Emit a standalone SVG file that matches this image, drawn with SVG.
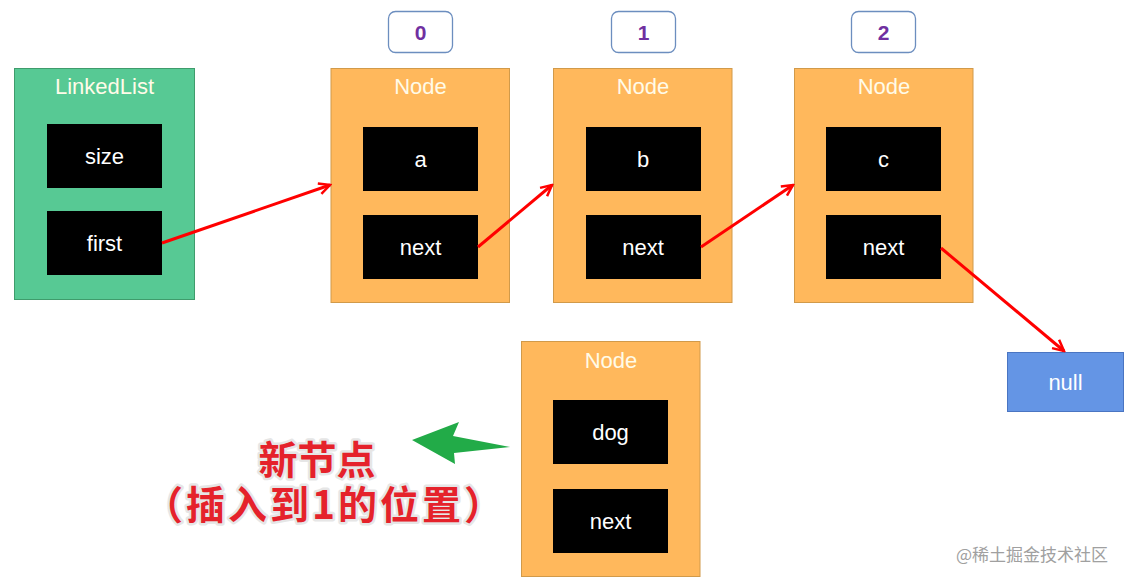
<svg xmlns="http://www.w3.org/2000/svg" width="1130" height="584" viewBox="0 0 1130 584">
<defs>
<style>
.t{font-family:"Liberation Sans",Arial,sans-serif;font-size:22px;fill:#fff;text-anchor:middle;dominant-baseline:central}
.title{font-family:"Liberation Sans",Arial,sans-serif;font-size:22px;fill:#fffbe8;text-anchor:middle;dominant-baseline:central}
.node{fill:#ffb85c;stroke:#d19a4a;stroke-width:1}
.field{fill:#000}
.idx{fill:#fff;stroke:#6c8ebf;stroke-width:1.3}
.idxt{font-family:"Liberation Sans",Arial,sans-serif;font-size:21px;font-weight:bold;fill:#7030a0;text-anchor:middle;dominant-baseline:central}
.link{stroke:#ff0000;stroke-width:3;fill:none;marker-end:url(#ah)}
.cn{font-family:"Noto Sans CJK SC","Noto Sans",sans-serif;font-weight:bold;font-size:39px;fill:#e5222b;stroke:#e6e6e6;stroke-width:5;paint-order:stroke;text-anchor:middle;stroke-linejoin:round}
</style>
<marker id="ah" viewBox="0 0 14 14" refX="12" refY="7" markerWidth="14" markerHeight="14" markerUnits="userSpaceOnUse" orient="auto">
<path d="M1,1.5 L12,7 L1,12.5" fill="none" stroke="#ff0000" stroke-width="2.5"/>
</marker>
</defs>
<rect width="1130" height="584" fill="#fff"/>

<g id="idx0"><rect class="idx" x="388.5" y="11.5" width="64" height="41" rx="7"/><text class="idxt" x="420.5" y="32">0</text></g>
<g id="idx1"><rect class="idx" x="611.5" y="11.5" width="64" height="41" rx="7"/><text class="idxt" x="643.5" y="32">1</text></g>
<g id="idx2"><rect class="idx" x="851.5" y="11.5" width="64" height="41" rx="7"/><text class="idxt" x="883.5" y="32">2</text></g>

<g id="linkedlist">
<rect x="14.5" y="68.5" width="180" height="231" fill="#57c994" stroke="#3f9c6c"/>
<text class="title" x="104.5" y="86">LinkedList</text>
<rect class="field" x="47" y="124" width="115" height="64"/><text class="t" x="104.5" y="156">size</text>
<rect class="field" x="47" y="211" width="115" height="64"/><text class="t" x="104.5" y="243">first</text>
</g>

<g id="node0">
<rect class="node" x="331" y="68.5" width="178.5" height="234"/>
<text class="title" x="420.5" y="86">Node</text>
<rect class="field" x="363" y="127" width="115" height="64"/><text class="t" x="420.5" y="159">a</text>
<rect class="field" x="363" y="215" width="115" height="64"/><text class="t" x="420.5" y="247">next</text>
</g>
<g id="node1">
<rect class="node" x="553.5" y="68.5" width="178.5" height="234"/>
<text class="title" x="643" y="86">Node</text>
<rect class="field" x="586" y="127" width="115" height="64"/><text class="t" x="643" y="159">b</text>
<rect class="field" x="586" y="215" width="115" height="64"/><text class="t" x="643" y="247">next</text>
</g>
<g id="node2">
<rect class="node" x="794.5" y="68.5" width="178.5" height="234"/>
<text class="title" x="884" y="86">Node</text>
<rect class="field" x="826" y="127" width="115" height="64"/><text class="t" x="883.5" y="159">c</text>
<rect class="field" x="826" y="215" width="115" height="64"/><text class="t" x="883.5" y="247">next</text>
</g>

<g id="null">
<rect x="1007.5" y="352.5" width="116" height="59" fill="#6495e5" stroke="#4a75c2"/>
<text class="t" x="1065.5" y="382">null</text>
</g>

<g id="newnode">
<rect class="node" x="521.5" y="341.5" width="178.5" height="235"/>
<text class="title" x="611" y="360">Node</text>
<rect class="field" x="553" y="400" width="115" height="64"/><text class="t" x="610.5" y="432">dog</text>
<rect class="field" x="553" y="489" width="115" height="64"/><text class="t" x="610.5" y="521">next</text>
</g>

<g id="connectors">
<line class="link" x1="162" y1="243" x2="330" y2="185"/>
<line class="link" x1="478" y1="247" x2="552" y2="185"/>
<line class="link" x1="701" y1="247" x2="793" y2="185"/>
<line class="link" x1="941" y1="248" x2="1064" y2="351"/>
<path id="green-arrow" d="M412,440 L459,422 L453,436 L510,447 L454,453 L455,464 Z" fill="#22ab48"/>
</g>

<g id="label">
<text class="cn" x="317" y="474">新节点</text>
<text class="cn" x="325" y="519" letter-spacing="3">（插入到1的位置）</text>
</g>

<text x="1032" y="561" font-family="'Noto Sans CJK SC','Noto Sans',sans-serif" font-size="17" fill="#a0a0a0" text-anchor="middle">@稀土掘金技术社区</text>
</svg>
